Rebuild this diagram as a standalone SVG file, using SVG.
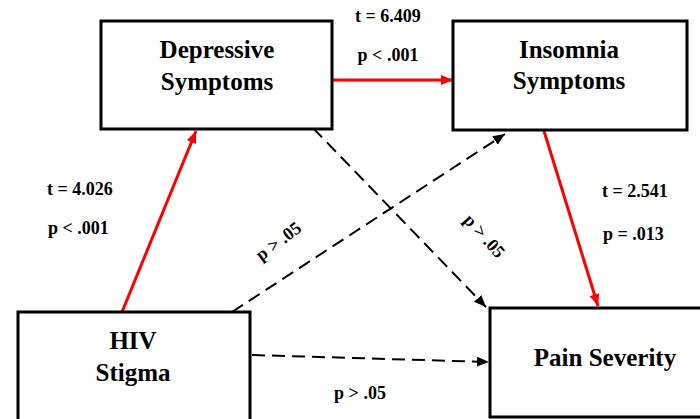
<svg xmlns="http://www.w3.org/2000/svg" width="700" height="419" viewBox="0 0 700 419">
  <defs>
    <marker id="ar" viewBox="0 0 12 10" refX="12" refY="5" markerWidth="12" markerHeight="10" markerUnits="userSpaceOnUse" orient="auto">
      <path d="M0,0 L12,5 L0,10 z" fill="#ff0000"/>
    </marker>
    <marker id="ak" viewBox="0 0 12 10" refX="12" refY="5" markerWidth="12" markerHeight="10" markerUnits="userSpaceOnUse" orient="auto">
      <path d="M0,0 L12,5 L0,10 z" fill="#000"/>
    </marker>
    <style>
      .box { fill: #fff; stroke: #000; stroke-width: 3; }
      .nt { font-family: "Liberation Serif", "Times New Roman", serif; font-weight: bold; font-size: 25px; fill: #000; text-anchor: middle; }
      .lb { font-family: "Liberation Serif", "Times New Roman", serif; font-weight: bold; font-size: 18px; fill: #000; }
      .red { stroke: #ff0000; stroke-width: 3; fill: none; marker-end: url(#ar); }
      .dash { stroke: #000; stroke-width: 2; fill: none; stroke-dasharray: 13 7; marker-end: url(#ak); }
    </style>
  </defs>

  <g id="connectors">
    <line class="red" x1="122" y1="312" x2="196" y2="131"/>
    <line class="red" x1="333" y1="80" x2="453" y2="80"/>
    <line class="red" x1="544" y1="131" x2="598" y2="306"/>
    <line class="dash" x1="313" y1="128" x2="486" y2="307"/>
    <line class="dash" x1="232" y1="312" x2="505" y2="134"/>
    <line class="dash" x1="252" y1="355" x2="489" y2="362"/>
  </g>

  <g id="depressive">
    <rect class="box" x="101" y="21" width="231" height="108"/>
    <text class="nt" x="217" y="58">Depressive</text>
    <text class="nt" x="217" y="90">Symptoms</text>
  </g>
  <g id="insomnia">
    <rect class="box" x="453" y="21" width="234" height="109"/>
    <text class="nt" x="569" y="58">Insomnia</text>
    <text class="nt" x="569" y="89">Symptoms</text>
  </g>
  <g id="hiv">
    <rect class="box" x="18" y="312" width="232" height="120"/>
    <text class="nt" x="133" y="349">HIV</text>
    <text class="nt" x="133" y="381">Stigma</text>
  </g>
  <g id="pain">
    <rect class="box" x="490" y="308" width="230" height="109"/>
    <text class="nt" x="605" y="366">Pain Severity</text>
  </g>

  <g id="labels">
    <text class="lb" x="388" y="22" text-anchor="middle">t = 6.409</text>
    <text class="lb" x="388" y="61" text-anchor="middle">p &lt; .001</text>
    <text class="lb" x="47" y="195">t = 4.026</text>
    <text class="lb" x="48" y="234">p &lt; .001</text>
    <text class="lb" x="602" y="197">t = 2.541</text>
    <text class="lb" x="603" y="240">p = .013</text>
    <text class="lb" text-anchor="middle" transform="translate(282,246) rotate(-37)">p &gt; .05</text>
    <text class="lb" text-anchor="middle" transform="translate(480,240) rotate(48)">p &gt; .05</text>
    <text class="lb" x="360" y="399" text-anchor="middle">p &gt; .05</text>
  </g>
</svg>
